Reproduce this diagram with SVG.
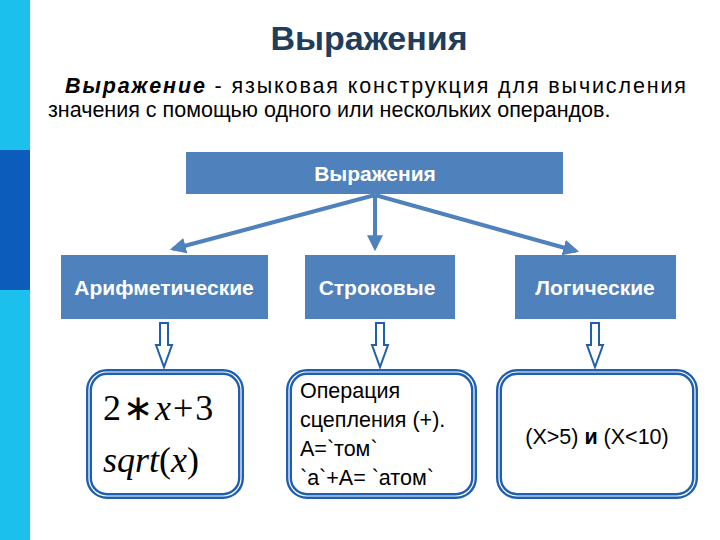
<svg xmlns="http://www.w3.org/2000/svg" width="720" height="540" viewBox="0 0 720 540">
<defs>
<style>
.box{fill:#4f81bd}
.lbl{font-family:"Liberation Sans",Arial,sans-serif;font-size:21px;fill:#fff;text-anchor:middle;font-weight:bold}
.t{font-family:"Liberation Sans",Arial,sans-serif;font-size:21.5px;fill:#000}
.rb{fill:#fff;stroke:#1f5fb0;stroke-width:6}
.rb2{fill:none;stroke:#fff;stroke-width:1.2}
.con{stroke:#4f81bd;stroke-width:4;fill:none}
.dn{fill:#fff;stroke:#1f5fb0;stroke-width:2}
.m{font-family:"Liberation Serif","Times New Roman",serif;font-size:36px;fill:#000}
</style>
<marker id="ah" viewBox="0 0 10 10" refX="8" refY="5" markerWidth="4" markerHeight="4" orient="auto"><path d="M0,0L10,5L0,10z" fill="#4f81bd"/></marker>
</defs>
<rect width="720" height="540" fill="#fff"/>
<rect x="0" y="0" width="30" height="540" fill="#1cc0ec"/>
<rect x="0" y="150" width="30" height="140" fill="#0c5cbc"/>
<text x="369" y="50" font-family="Liberation Sans,Arial,sans-serif" font-size="34" font-weight="bold" fill="#1f3d5c" text-anchor="middle">Выражения</text>
<text class="t" x="65" y="93" textLength="621" lengthAdjust="spacing"><tspan font-style="italic" font-weight="bold">Выражение</tspan> - языковая конструкция для вычисления</text>
<text class="t" x="48" y="117">значения с помощью одного или нескольких операндов.</text>
<g id="connectors">
<path class="con" d="M375 195L173 249" marker-end="url(#ah)"/>
<path class="con" d="M375 195L375 248" marker-end="url(#ah)"/>
<path class="con" d="M375 195L576 251" marker-end="url(#ah)"/>
<path class="dn" d="M160 323h8v22h4l-8 22l-8-22h4z"/>
<path class="dn" d="M376 323h8v22h4l-8 22l-8-22h4z"/>
<path class="dn" d="M591 323h8v22h4l-8 22l-8-22h4z"/>
</g>
<g id="top"><rect class="box" x="186" y="152" width="377" height="42"/><text class="lbl" x="375" y="181" font-weight="normal">Выражения</text></g>
<g id="arith"><rect class="box" x="61" y="255" width="207" height="64"/><text class="lbl" x="164" y="295">Арифметические</text></g>
<g id="str"><rect class="box" x="305" y="255" width="150" height="64"/><text class="lbl" x="377" y="295" font-weight="normal">Строковые</text></g>
<g id="log"><rect class="box" x="515" y="255" width="161" height="64"/><text class="lbl" x="595" y="295" font-weight="normal">Логические</text></g>
<g id="b1"><rect class="rb" x="89" y="372" width="152" height="124" rx="18"/><rect class="rb2" x="89" y="372" width="152" height="124" rx="18"/>
<text class="m" x="103" y="420">2<tspan dx="2">∗</tspan><tspan font-style="italic" dx="2">x</tspan><tspan dx="2">+</tspan><tspan dx="2">3</tspan></text>
<text class="m" x="103" y="472"><tspan font-style="italic">sqrt</tspan>(<tspan font-style="italic">x</tspan>)</text></g>
<g id="b2"><rect class="rb" x="289" y="372" width="185" height="124" rx="18"/><rect class="rb2" x="289" y="372" width="185" height="124" rx="18"/>
<text class="t" x="300" y="398">Операция</text><text class="t" x="300" y="427">сцепления (+).</text><text class="t" x="300" y="456">А=`том`</text><text class="t" x="300" y="485">`а`+А= `атом`</text></g>
<g id="b3"><rect class="rb" x="499" y="372" width="196" height="124" rx="18"/><rect class="rb2" x="499" y="372" width="196" height="124" rx="18"/>
<text class="t" x="597" y="444" text-anchor="middle">(X&gt;5) <tspan font-weight="bold">и</tspan> (X&lt;10)</text></g>
</svg>
